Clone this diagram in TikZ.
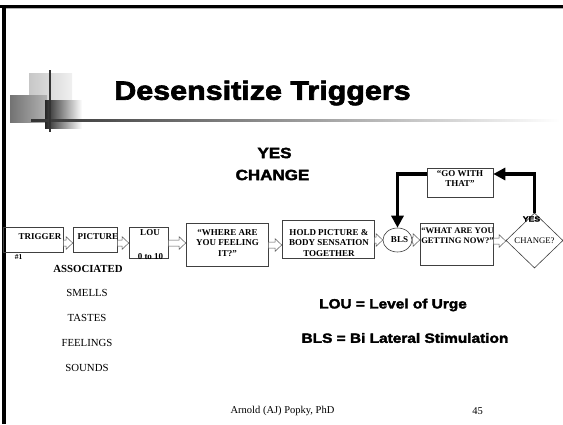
\documentclass[tikz,border=0pt]{standalone}
\usepackage{fontspec}
\setmainfont{Liberation Serif}
\newfontfamily\hsans[FakeBold=2.5,FakeStretch=1.15]{Liberation Sans Bold}
\usetikzlibrary{shapes.geometric,calc,arrows.meta}
\tikzset{
  stepbox/.style={draw=black!75, line width=0.6pt, inner sep=0pt},
  boxtxt/.style={inner sep=0pt, align=center, font=\fontsize{9}{10.8}\selectfont\bfseries},
  plain/.style={inner sep=0pt, font=\fontsize{10.8}{12}\selectfont},
  boldtxt/.style={inner sep=0pt, font=\fontsize{10.8}{12}\selectfont\bfseries},
  barrowstyle/.style={draw=black!65, fill=white, line width=0.5pt, line join=miter},
  loop/.style={line width=3.6pt, -{Triangle[length=12pt,width=12pt]}},
}
\newcommand\barrow[3]{%
  \draw[barrowstyle] let \p1=(#1.east), \p2=(#2.west), \p3=(0,#3) in
    (\x1,\y3+3pt) -- (\x2-6.5pt,\y3+3pt) -- (\x2-6.5pt,\y3+6.2pt) -- (\x2,\y3)
    -- (\x2-6.5pt,\y3-6.2pt) -- (\x2-6.5pt,\y3-3pt) -- (\x1,\y3-3pt) -- cycle;}
\begin{document}
\begin{tikzpicture}[x=1pt,y=-1pt]
\useasboundingbox (0,0) rectangle (563,424);
\fill[white] (0,0) rectangle (563,424);
% slide border
\fill[black] (0,5) rectangle (563,8);
\fill[black!30] (6,8) rectangle (563,9);
\fill[black] (2,5) rectangle (5.5,424);
% title decoration
\shade[left color=black!22, right color=black!6] (29,73) rectangle (72,100);
\shade[left color=black!55, right color=black!30] (10,95) rectangle (47,122);
\shade[left color=black!85, right color=white] (45,100) rectangle (82,128);
\shade[left color=black!80, right color=white] (31,119) rectangle (560,121.5);
\draw[black!80, line width=1.4pt] (50,70) -- (50,132);
\node[font=\hsans\fontsize{26.5}{30}\selectfont, inner sep=0pt] (title) at (262.5,93) {Desensitize Triggers};
% yes change
\node[font=\hsans\fontsize{14.8}{16}\selectfont, inner sep=0pt] (yes1) at (274.5,153) {YES};
\node[font=\hsans\fontsize{14.8}{16}\selectfont, inner sep=0pt] (chg1) at (272.5,175) {CHANGE};
% flow boxes
\node[stepbox, minimum width=60, minimum height=25] (trig) at (33,239.5) {};
\node[stepbox, minimum width=44, minimum height=25] (pic) at (95,239.5) {};
\node[stepbox, minimum width=39, minimum height=31] (lou) at (148.5,242.5) {};
\node[stepbox, minimum width=82, minimum height=43] (where) at (227,244.5) {};
\node[stepbox, minimum width=92, minimum height=38] (hold) at (328,239) {};
\node[stepbox, ellipse, minimum width=29, minimum height=24] (bls) at (397.5,240) {};
\node[stepbox, minimum width=73, minimum height=42] (what) at (456.5,244) {};
\node[draw=black!75, line width=0.6pt, diamond, inner sep=0pt, minimum width=57, minimum height=55,
  font=\fontsize{8.7}{9}\selectfont] (change) at (534.5,240.5) {CHANGE?};
\node[stepbox, minimum width=66, minimum height=29] (go) at (460,182.5) {};
% box texts
\node[boxtxt] (trigT) at (40,237) {TRIGGER};
\node[boxtxt] (picT) at (98,237) {PICTURE};
\node[boxtxt] (louT) at (150,233) {LOU};
\node[boxtxt] (lou0) at (150.5,256.5) {0 to 10};
\node[boxtxt] (whereT) at (227.5,243) {“WHERE ARE\\YOU FEELING\\IT?”};
\node[boxtxt] (holdT) at (329,243) {HOLD PICTURE \&\\BODY SENSATION\\TOGETHER};
\node[boxtxt] (blsT) at (399.5,240) {BLS};
\node[boxtxt, font=\fontsize{8.6}{10.6}\selectfont\bfseries] (whatT) at (457.5,235.5) {“WHAT ARE YOU\\GETTING NOW?”};
\node[boxtxt] (goT) at (460,178.5) {“GO WITH\\THAT”};
% block arrows
\barrow{trig}{pic}{243}
\barrow{pic}{lou}{243}
\barrow{lou}{where}{243}
\barrow{where}{hold}{245}
\barrow{hold}{bls}{240}
\barrow{bls}{what}{240}
\barrow{what}{change}{241}
% loop arrows
\draw[loop] (change.north) |- ([yshift=8.5pt]go.east);
\draw[loop] ([yshift=8.5pt]go.west) -| (bls.north);
\node[font=\hsans\fontsize{7.5}{8}\selectfont, inner sep=0pt] (yes2) at (531.5,219) {YES};
% left column
\node[boldtxt, font=\fontsize{7.5}{8}\selectfont\bfseries] (n1) at (18.5,257) {\#1};
\node[boldtxt] (assoc) at (88,268.5) {ASSOCIATED};
\node[plain] (smells) at (87,293) {SMELLS};
\node[plain] (tastes) at (87,318) {TASTES};
\node[plain] (feel) at (87,343) {FEELINGS};
\node[plain] (sounds) at (87,368) {SOUNDS};
% legend
\node[font=\hsans\fontsize{13.4}{15}\selectfont, inner sep=0pt] (lou2) at (393,305) {LOU = Level of Urge};
\node[font=\hsans\fontsize{13.4}{15}\selectfont, inner sep=0pt] (bls2) at (405,338) {BLS = Bi Lateral Stimulation};
% footer
\node[plain, font=\fontsize{10.5}{12}\selectfont] (foot) at (282.5,410.5) {Arnold (AJ) Popky, PhD};
\node[plain, font=\fontsize{10.5}{12}\selectfont] (page) at (477.5,411.5) {45};
\end{tikzpicture}
\end{document}
